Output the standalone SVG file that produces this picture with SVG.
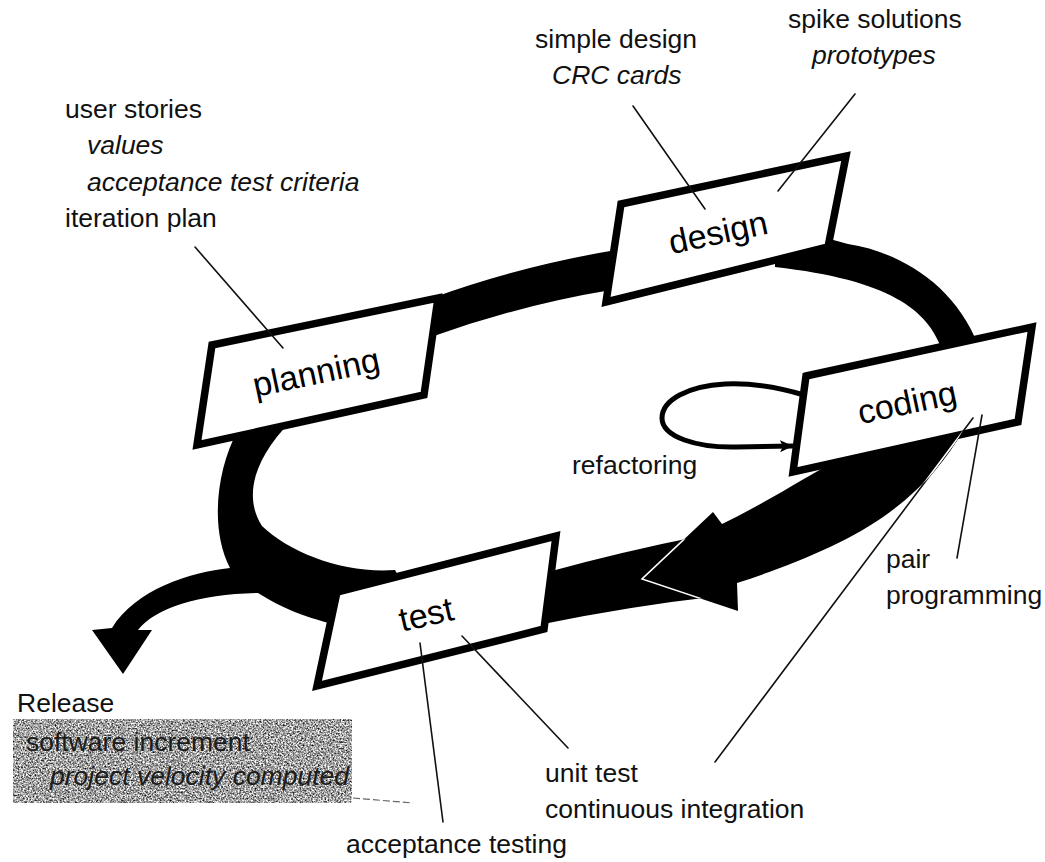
<svg xmlns="http://www.w3.org/2000/svg" width="1045" height="862" viewBox="0 0 1045 862">
  <defs>
    <style>
      .lbl{font-family:"Liberation Sans",Arial,Helvetica,sans-serif;font-size:26.5px;fill:#111}
      .it{font-style:italic}
      .stage{fill:#fff;stroke:#000;stroke-width:7.5;stroke-linejoin:miter}
      .stage-name{font-family:"Liberation Sans",Arial,Helvetica,sans-serif;font-size:34px;fill:#000;text-anchor:middle}
      .band{fill:#000}
      .lead{stroke:#111;stroke-width:1.6;fill:none;stroke-linecap:round}
      .knock{stroke:#fff;stroke-width:1.6;fill:none}
      .loop{stroke:#000;stroke-width:5;fill:none}
      .rel-text{font-family:"Liberation Sans",Arial,Helvetica,sans-serif;font-size:26.5px;fill:#1c1c1c}
    </style>
    <!-- halftone grain for the release panel -->
    <filter id="grain" filterUnits="objectBoundingBox" x="0" y="0" width="1" height="1" color-interpolation-filters="sRGB">
      <feTurbulence type="fractalNoise" baseFrequency="0.6" numOctaves="3" seed="7" result="n"/>
      <feColorMatrix in="n" type="matrix" values="1.7 0 0 0 -0.22  1.7 0 0 0 -0.22  1.7 0 0 0 -0.22  0 0 0 0 1"/>
    </filter>
    <marker id="tip" markerWidth="14" markerHeight="12" refX="13" refY="6" orient="auto" markerUnits="userSpaceOnUse">
      <path d="M0,0 L13,6 L0,12 L3,6 Z" fill="#000"/>
    </marker>
    <!-- band outlines reused for knock-out lines -->
    <path id="bandOut" d="M 840,458 C 805,478 765,503 722,524 L 713,512 L 642,579 L 738,611 L 737,583 C 790,566 850,542 890,512 C 925,486 948,458 963,430 Z"/>
    <path id="bandIn" d="M 548,572 Q 620,552 705,535 L 720,596 Q 630,606 538,625 Z"/>
    <clipPath id="clipOut"><use href="#bandOut"/></clipPath>
    <clipPath id="clipIn"><use href="#bandIn"/></clipPath>
  </defs>

  <rect width="1045" height="862" fill="#fff"/>

  <!-- the iteration cycle: thick black band running under the stage cards -->
  <g id="cycle-flow">
    <!-- planning to design -->
    <path class="band" d="M 432,298 Q 520,266 616,250 L 611,290 Q 520,305 428,338 Z"/>
    <!-- design to coding -->
    <path class="band" d="M 826,238 L 848,244 C 900,252 955,285 978,345 L 942,350 C 928,310 890,280 775,267 L 775,255 Z"/>
    <!-- test back toward the arrowhead -->
    <use href="#bandIn" class="band"/>
    <!-- coding down to the arrowhead -->
    <use href="#bandOut" class="band"/>
    <!-- edges of the arrowhead where it lies over the band -->
    <polyline class="knock" points="713,512 642,579 738,611" clip-path="url(#clipIn)"/>
    <!-- test up to planning, with the release branch -->
    <path class="band" d="M 238,430 C 216,470 210,530 230,568 C 190,572 135,590 112,628 L 92,630 L 123,674 L 152,630 L 138,630 C 155,608 200,594 258,593 C 280,607 305,618 345,627 L 405,588 L 395,570 C 345,574 290,553 262,526 C 245,500 250,462 292,420 Z"/>
  </g>

  <g id="planning">
    <polygon class="stage" points="212,345 438,298 424,395 197,445"/>
    <text class="stage-name" transform="rotate(-12 316 372)" x="316" y="384">planning</text>
  </g>

  <g id="design">
    <polygon class="stage" points="621,204 846,156 828,247 606,302"/>
    <text class="stage-name" transform="rotate(-12 718 232)" x="718" y="244">design</text>
  </g>

  <g id="coding">
    <polygon class="stage" points="806,376 1032,327 1018,422 793,472"/>
    <text class="stage-name" transform="rotate(-12 907 402)" x="907" y="414">coding</text>
  </g>

  <g id="test">
    <polygon class="stage" points="337,592 556,536 544,629 317,686"/>
    <text class="stage-name" transform="rotate(-13 426 614)" x="426" y="626">test</text>
  </g>

  <g id="planning-notes">
    <text class="lbl" x="65" y="118">user stories</text>
    <text class="lbl it" x="87" y="154">values</text>
    <text class="lbl it" x="87" y="191">acceptance test criteria</text>
    <text class="lbl" x="65" y="227">iteration plan</text>
  </g>

  <g id="design-notes">
    <text class="lbl" x="535" y="48">simple design</text>
    <text class="lbl it" x="552" y="84">CRC cards</text>
  </g>

  <g id="spike-notes">
    <text class="lbl" x="788" y="28">spike solutions</text>
    <text class="lbl it" x="812" y="64">prototypes</text>
  </g>

  <g id="refactoring-note">
    <text class="lbl" x="572" y="474">refactoring</text>
  </g>

  <g id="pair-note">
    <text class="lbl" x="886" y="568">pair</text>
    <text class="lbl" x="886" y="604">programming</text>
  </g>

  <g id="unit-note">
    <text class="lbl" x="545" y="782">unit test</text>
    <text class="lbl" x="545" y="818">continuous integration</text>
  </g>

  <g id="acceptance-note">
    <text class="lbl" x="346" y="853">acceptance testing</text>
  </g>

  <g id="release">
    <text class="lbl" x="17" y="712">Release</text>
    <rect x="13" y="719" width="339" height="84" filter="url(#grain)"/>
    <text class="rel-text" x="26" y="751">software increment</text>
    <text class="rel-text it" x="50" y="785">project velocity computed</text>
    <line x1="353" y1="798" x2="413" y2="803" stroke="#666" stroke-width="1.2" stroke-dasharray="7 3"/>
  </g>

  <g id="connectors">
    <line class="lead" x1="195" y1="247" x2="283" y2="348"/>
    <line class="lead" x1="633" y1="106" x2="705" y2="209"/>
    <line class="lead" x1="855" y1="94" x2="778" y2="191"/>
    <line class="lead" x1="982" y1="415" x2="957" y2="558"/>
    <line class="lead" x1="973" y1="418" x2="715" y2="762"/>
    <line class="knock" x1="973" y1="418" x2="715" y2="762" clip-path="url(#clipOut)"/>
    <line class="lead" x1="462" y1="636" x2="568" y2="748"/>
    <line class="lead" x1="420" y1="643" x2="443" y2="822"/>
    <!-- refactoring loop back into coding -->
    <path class="loop" d="M 804,395 C 770,385 745,383 725,384 C 688,386 662,400 662,418 C 662,437 697,448 737,447 L 793,446" marker-end="url(#tip)"/>
  </g>
</svg>
